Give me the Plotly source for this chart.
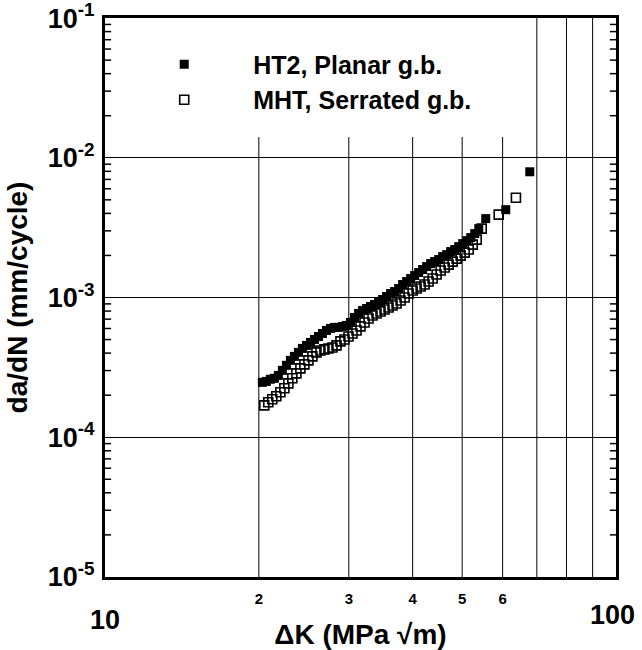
import plotly.graph_objects as go

# ---- data ----
ht2_dk = [20.32, 20.69, 21.07, 21.45, 21.84, 22.24, 22.65, 23.06, 23.48, 23.91,
          24.34, 24.79, 25.24, 25.70, 26.17, 26.64, 27.13, 27.62, 28.13, 28.64,
          29.16, 29.69, 30.23, 30.78, 31.35, 31.92, 32.50, 33.09, 33.69, 34.31,
          34.93, 35.57, 36.22, 36.88, 37.55, 38.23, 38.93, 39.64, 40.36, 41.10,
          41.84, 42.61, 43.38, 44.17, 44.98, 45.80, 46.63, 47.48, 48.35, 49.23,
          50.12, 51.04, 51.97, 52.92, 53.88, 55.6, 60.85, 67.8]
ht2_dadn = [2.47e-4, 2.51e-4, 2.60e-4, 2.64e-4, 2.77e-4, 3.01e-4, 3.27e-4, 3.55e-4, 3.79e-4, 4.05e-4,
            4.32e-4, 4.54e-4, 4.77e-4, 5.01e-4, 5.26e-4, 5.53e-4, 5.81e-4, 6.01e-4, 6.11e-4, 6.11e-4,
            6.21e-4, 6.31e-4, 6.63e-4, 7.20e-4, 7.69e-4, 8.07e-4, 8.34e-4, 8.62e-4, 8.91e-4, 9.21e-4,
            9.67e-4, 1.017e-3, 1.068e-3, 1.104e-3, 1.159e-3, 1.238e-3, 1.301e-3, 1.367e-3, 1.436e-3, 1.509e-3,
            1.585e-3, 1.665e-3, 1.749e-3, 1.807e-3, 1.868e-3, 1.963e-3, 2.028e-3, 2.131e-3, 2.203e-3, 2.314e-3,
            2.43e-3, 2.553e-3, 2.683e-3, 2.864e-3, 3.11e-3, 3.67e-3, 4.25e-3, 7.94e-3]

mht_dk = [20.50, 20.87, 21.25, 21.64, 22.04, 22.44, 22.85, 23.26, 23.69, 24.12,
          24.56, 25.01, 25.46, 25.93, 26.40, 26.88, 27.37, 27.87, 28.38, 28.89,
          29.42, 29.96, 30.50, 31.06, 31.62, 32.20, 32.79, 33.38, 33.99, 34.61,
          35.24, 35.88, 36.54, 37.20, 37.88, 38.57, 39.27, 39.99, 40.72, 41.46,
          42.21, 42.98, 43.77, 44.56, 45.38, 46.20, 47.04, 47.90, 48.77, 49.66,
          50.57, 51.49, 52.43, 53.38, 54.6, 58.95, 63.7]
mht_dadn = [1.69e-4, 1.778e-4, 1.868e-4, 1.963e-4, 2.096e-4, 2.239e-4, 2.43e-4, 2.64e-4, 2.864e-4, 3.11e-4,
            3.32e-4, 3.55e-4, 3.79e-4, 4.05e-4, 4.18e-4, 4.25e-4, 4.32e-4, 4.39e-4, 4.54e-4, 4.85e-4,
            5.01e-4, 5.26e-4, 5.53e-4, 5.81e-4, 6.21e-4, 6.63e-4, 7.08e-4, 7.44e-4, 7.69e-4, 7.94e-4,
            8.21e-4, 8.48e-4, 8.77e-4, 9.06e-4, 9.52e-4, 1.0e-3, 1.068e-3, 1.122e-3, 1.159e-3, 1.198e-3,
            1.238e-3, 1.301e-3, 1.367e-3, 1.46e-3, 1.559e-3, 1.638e-3, 1.72e-3, 1.807e-3, 1.899e-3, 1.995e-3,
            2.096e-3, 2.203e-3, 2.39e-3, 2.596e-3, 3.11e-3, 3.92e-3, 5.18e-3]

series_names = ["HT2, Planar g.b.", "MHT, Serrated g.b."]

x_tick_vals = [20, 30, 40, 50, 60]
x_tick_text = ["2", "3", "4", "5", "6"]
x_grid_short = [20, 30, 40, 50, 60]
x_grid_full = [70, 80, 90]
y_tick_vals = [1e-5, 1e-4, 1e-3, 1e-2, 1e-1]
y_tick_text = ["10<sup>-5</sup>", "10<sup>-4</sup>", "10<sup>-3</sup>", "10<sup>-2</sup>", "10<sup>-1</sup>"]

FONT = "Liberation Sans, Arial, Helvetica, sans-serif"
Y_RANGE = [-5.0004, -0.9996]

fig = go.Figure()
fig.add_trace(go.Scatter(
    x=ht2_dk, y=ht2_dadn, mode="markers", name=series_names[0],
    marker=dict(symbol="square", size=9, color="black", line=dict(width=0))))
fig.add_trace(go.Scatter(
    x=mht_dk, y=mht_dadn, mode="markers", name=series_names[1],
    marker=dict(symbol="square-open", size=9, color="black", line=dict(width=1.6, color="black"))))

shapes = []
# vertical grid lines (the short ones stop below the legend)
for v in x_grid_short:
    shapes.append(dict(type="line", xref="x", yref="paper", x0=v, x1=v, y0=0, y1=0.787,
                       line=dict(color="black", width=1), layer="below"))
for v in x_grid_full:
    shapes.append(dict(type="line", xref="x", yref="paper", x0=v, x1=v, y0=0, y1=1,
                       line=dict(color="black", width=1), layer="below"))
# minor log ticks, inside, on left and right frame
TICK = 0.012
for e in range(-5, -1):
    for m in range(2, 10):
        val = m * 10.0 ** e
        shapes.append(dict(type="line", xref="paper", yref="y", x0=0, x1=TICK, y0=val, y1=val,
                           line=dict(color="black", width=1.5)))
        shapes.append(dict(type="line", xref="paper", yref="y", x0=1 - TICK, x1=1, y0=val, y1=val,
                           line=dict(color="black", width=1.5)))

fig.update_layout(
    width=642, height=650,
    margin=dict(l=105, r=26, t=18, b=73),
    paper_bgcolor="white", plot_bgcolor="white",
    font=dict(family=FONT, color="black", weight="bold"),
    shapes=shapes,
    showlegend=True,
    legend=dict(x=0.02, y=0.958, xanchor="left", yanchor="top",
                bgcolor="rgba(0,0,0,0)", itemwidth=128, tracegroupgap=0,
                font=dict(family=FONT, size=25, color="black", weight="bold")),
    xaxis=dict(type="log", range=[1, 2], showgrid=False, zeroline=False, automargin=False,
               showline=True, linewidth=3, linecolor="black", mirror=True,
               ticks="", tickvals=x_tick_vals, ticktext=x_tick_text,
               tickfont=dict(size=15, family=FONT, weight="bold"), ticklabelstandoff=6,
               title=dict(text="ΔK (MPa √m)", font=dict(size=28, family=FONT, weight="bold"), standoff=20)),
    yaxis=dict(type="log", range=Y_RANGE, showgrid=True, gridcolor="black", gridwidth=1,
               zeroline=False, showline=True, linewidth=3, linecolor="black", mirror=True,
               automargin=False, ticklabeloverflow="allow",
               ticks="", tickvals=y_tick_vals, ticktext=y_tick_text,
               tickfont=dict(size=27, family=FONT, weight="bold"), ticklabelstandoff=2,
               title=dict(text="da/dN (mm/cycle)", font=dict(size=28, family=FONT, weight="bold"), standoff=12)),
    annotations=[
        dict(x=1, y=-0.077, xref="x", yref="paper", text="10", showarrow=False,
             xanchor="center", yanchor="middle", font=dict(size=27, family=FONT, weight="bold")),
        dict(x=2, y=-0.068, xref="x", yref="paper", text="100", showarrow=False, xshift=-4,
             xanchor="center", yanchor="middle", font=dict(size=27, family=FONT, weight="bold")),
    ],
)

fig.write_html("out.html")
